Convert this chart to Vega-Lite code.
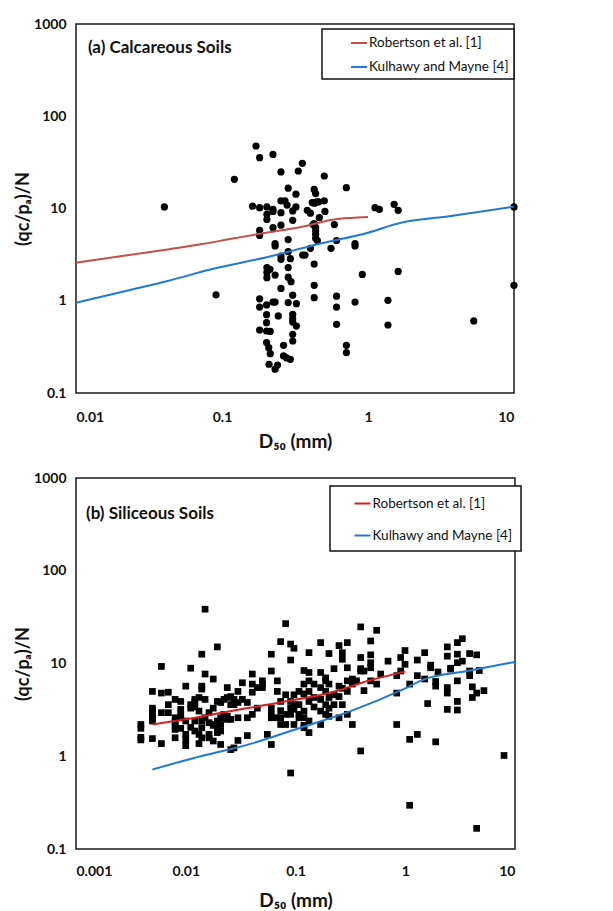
{
"$schema": "https://vega.github.io/schema/vega-lite/v6.json",
"background": "white",
"padding": {"left": 13, "top": 16, "right": 0, "bottom": 0},
"spacing": 85,
"bounds": "flush",
"config": {
 "font": "Lato",
 "view": {"stroke": "#1a1a1a", "strokeWidth": 1.5},
 "title": {"font": "Lato", "fontSize": 17, "fontWeight": "bold", "color": "#111", "anchor": "start", "frame": "group", "baseline": "alphabetic"},
 "axis": {"grid": false, "ticks": false, "domain": false, "labelFont": "Lato", "labelFontSize": 14, "labelFontWeight": "bold", "labelColor": "#111", "titleFont": "Lato", "titleFontSize": 18, "titleFontWeight": "bold", "titleColor": "#111"},
 "legend": {"title": null, "symbolType": "stroke", "symbolSize": 256, "symbolStrokeWidth": 2, "labelFont": "Lato", "labelFontSize": 13.5, "labelColor": "#111", "strokeColor": "#111", "strokeWidth": 1.5, "fillColor": "white", "labelOffset": 1}
},
"resolve": {"scale": {"x": "independent", "y": "independent", "color": "independent"}, "legend": {"color": "independent"}, "axis": {"x": "independent", "y": "independent"}},
"datasets": {
 "calc": [
  {"d50":0.0403,"qn":10.4},{"d50":0.091,"qn":1.16},{"d50":0.1216,"qn":20.7},{"d50":0.171,"qn":47.6},{"d50":0.181,"qn":35.6},{"d50":0.2235,"qn":38.6},{"d50":0.162,"qn":10.6},{"d50":0.181,"qn":10.2},{"d50":0.181,"qn":5.8},{"d50":0.181,"qn":5.1},{"d50":0.203,"qn":10.4},{"d50":0.203,"qn":8.65},{"d50":0.203,"qn":7.6},{"d50":0.2235,"qn":9.8},{"d50":0.2235,"qn":9.3},{"d50":0.2235,"qn":6.2},{"d50":0.231,"qn":4.16},{"d50":0.231,"qn":3.93},{"d50":0.2535,"qn":24.9},{"d50":0.2535,"qn":12.1},{"d50":0.27,"qn":12.1},{"d50":0.279,"qn":10.9},{"d50":0.2535,"qn":9.0},{"d50":0.2535,"qn":6.6},{"d50":0.284,"qn":16.6},{"d50":0.284,"qn":4.6},{"d50":0.284,"qn":3.4},{"d50":0.2535,"qn":3.05},{"d50":0.2535,"qn":2.81},{"d50":0.294,"qn":2.86},{"d50":0.305,"qn":9.4},{"d50":0.305,"qn":7.45},{"d50":0.321,"qn":10.4},{"d50":0.321,"qn":14.3},{"d50":0.333,"qn":25.5},{"d50":0.355,"qn":30.9},{"d50":0.357,"qn":3.13},{"d50":0.37,"qn":3.13},{"d50":0.384,"qn":9.55},{"d50":0.403,"qn":8.9},{"d50":0.403,"qn":3.7},{"d50":0.428,"qn":16.1},{"d50":0.438,"qn":14.5},{"d50":0.415,"qn":11.6},{"d50":0.43,"qn":11.4},{"d50":0.445,"qn":11.8},{"d50":0.46,"qn":11.8},{"d50":0.428,"qn":6.85},{"d50":0.438,"qn":6.2},{"d50":0.42,"qn":6.7},{"d50":0.438,"qn":5.7},{"d50":0.438,"qn":5.25},{"d50":0.438,"qn":4.75},{"d50":0.45,"qn":4.5},{"d50":0.464,"qn":7.96},{"d50":0.428,"qn":2.5},{"d50":0.428,"qn":1.47},{"d50":0.428,"qn":1.08},{"d50":0.502,"qn":22.5},{"d50":0.502,"qn":12.1},{"d50":0.507,"qn":9.3},{"d50":0.558,"qn":3.7},{"d50":0.588,"qn":6.7},{"d50":0.609,"qn":4.5},{"d50":0.609,"qn":1.12},{"d50":0.609,"qn":0.855},{"d50":0.609,"qn":0.555},{"d50":0.711,"qn":16.8},{"d50":0.711,"qn":0.329},{"d50":0.711,"qn":0.274},{"d50":0.815,"qn":4.16},{"d50":0.815,"qn":3.93},{"d50":0.815,"qn":0.968},{"d50":0.914,"qn":1.93},{"d50":1.117,"qn":10.2},{"d50":1.196,"qn":9.8},{"d50":1.51,"qn":11.1},{"d50":1.61,"qn":9.55},{"d50":1.61,"qn":2.08},{"d50":1.37,"qn":1.01},{"d50":1.37,"qn":0.546},{"d50":5.3,"qn":0.604},{"d50":10,"qn":10.4},{"d50":10,"qn":1.47},
  {"d50":0.181,"qn":1.05},{"d50":0.181,"qn":0.855},{"d50":0.202,"qn":0.9},{"d50":0.202,"qn":0.706},{"d50":0.202,"qn":0.578},{"d50":0.202,"qn":0.47},{"d50":0.181,"qn":0.482},{"d50":0.214,"qn":0.465},{"d50":0.202,"qn":0.352},{"d50":0.209,"qn":0.31},{"d50":0.214,"qn":0.267},{"d50":0.21,"qn":0.205},{"d50":0.231,"qn":0.181},{"d50":0.24,"qn":0.201},{"d50":0.2235,"qn":0.968},{"d50":0.231,"qn":0.968},{"d50":0.243,"qn":0.684},{"d50":0.203,"qn":2.29},{"d50":0.203,"qn":2.03},{"d50":0.203,"qn":1.78},{"d50":0.213,"qn":2.19},{"d50":0.231,"qn":1.9},{"d50":0.2535,"qn":1.36},{"d50":0.264,"qn":0.329},{"d50":0.264,"qn":0.252},{"d50":0.277,"qn":0.24},{"d50":0.294,"qn":0.232},{"d50":0.284,"qn":2.29},{"d50":0.284,"qn":1.8},{"d50":0.297,"qn":1.61},{"d50":0.305,"qn":1.15},{"d50":0.284,"qn":0.955},{"d50":0.323,"qn":0.929},{"d50":0.305,"qn":0.713},{"d50":0.305,"qn":0.64},{"d50":0.305,"qn":0.59},{"d50":0.323,"qn":0.532},{"d50":0.305,"qn":0.433},{"d50":0.305,"qn":0.366}
 ],
 "calcLines": [
  {"series":"Robertson et al. [1]","d50":0.01,"qn":2.59},{"series":"Robertson et al. [1]","d50":0.0425,"qn":3.6},{"series":"Robertson et al. [1]","d50":0.0718,"qn":4.1},{"series":"Robertson et al. [1]","d50":0.121,"qn":4.75},{"series":"Robertson et al. [1]","d50":0.206,"qn":5.5},{"series":"Robertson et al. [1]","d50":0.348,"qn":6.3},{"series":"Robertson et al. [1]","d50":0.587,"qn":7.6},{"series":"Robertson et al. [1]","d50":0.765,"qn":7.9},{"series":"Robertson et al. [1]","d50":1.0,"qn":8.1},
  {"series":"Kulhawy and Mayne [4]","d50":0.01,"qn":0.95},{"series":"Kulhawy and Mayne [4]","d50":0.025,"qn":1.34},{"series":"Kulhawy and Mayne [4]","d50":0.0425,"qn":1.64},{"series":"Kulhawy and Mayne [4]","d50":0.093,"qn":2.28},{"series":"Kulhawy and Mayne [4]","d50":0.206,"qn":2.98},{"series":"Kulhawy and Mayne [4]","d50":0.452,"qn":4.1},{"series":"Kulhawy and Mayne [4]","d50":1.0,"qn":5.47},{"series":"Kulhawy and Mayne [4]","d50":1.68,"qn":7.0},{"series":"Kulhawy and Mayne [4]","d50":3.7,"qn":8.3},{"series":"Kulhawy and Mayne [4]","d50":10,"qn":10.5}
 ],
 "sil": [
  {"d50":0.0039,"qn":2.2},{"d50":0.0039,"qn":2.0},{"d50":0.0039,"qn":1.6},{"d50":0.0039,"qn":1.5},
  {"d50":0.00497,"qn":5.0},{"d50":0.00497,"qn":3.3},{"d50":0.00497,"qn":3.07},{"d50":0.00497,"qn":2.83},{"d50":0.00497,"qn":2.6},{"d50":0.00497,"qn":2.4},{"d50":0.00497,"qn":1.55},
  {"d50":0.006,"qn":9.3},{"d50":0.006,"qn":4.8},{"d50":0.006,"qn":2.95},{"d50":0.006,"qn":1.37},
  {"d50":0.00694,"qn":4.9},{"d50":0.00694,"qn":3.6},{"d50":0.00694,"qn":2.95},
  {"d50":0.008,"qn":4.1},{"d50":0.008,"qn":2.6},{"d50":0.008,"qn":2.35},{"d50":0.008,"qn":2.15},{"d50":0.008,"qn":1.95},{"d50":0.008,"qn":1.58},
  {"d50":0.009,"qn":3.9},{"d50":0.009,"qn":3.2},{"d50":0.009,"qn":2.83},{"d50":0.009,"qn":2.6},{"d50":0.009,"qn":2.0},
  {"d50":0.01,"qn":5.7},{"d50":0.01,"qn":2.4},{"d50":0.01,"qn":1.72},{"d50":0.01,"qn":1.5},{"d50":0.01,"qn":1.3},
  {"d50":0.0111,"qn":8.9},{"d50":0.0111,"qn":3.6},{"d50":0.0111,"qn":3.3},{"d50":0.0111,"qn":2.05},
  {"d50":0.0121,"qn":4.1},{"d50":0.0121,"qn":3.8},{"d50":0.0121,"qn":3.4},{"d50":0.0121,"qn":2.4},{"d50":0.0121,"qn":1.87},
  {"d50":0.0132,"qn":4.3},{"d50":0.0132,"qn":3.07},{"d50":0.0132,"qn":1.72},{"d50":0.0132,"qn":1.37},
  {"d50":0.014,"qn":12.6},{"d50":0.014,"qn":5.7},{"d50":0.014,"qn":5.3},{"d50":0.014,"qn":2.4},{"d50":0.014,"qn":2.03},{"d50":0.014,"qn":1.58},
  {"d50":0.015,"qn":38.5},{"d50":0.015,"qn":7.7},{"d50":0.015,"qn":4.1},{"d50":0.015,"qn":2.6},
  {"d50":0.0163,"qn":2.95},{"d50":0.0163,"qn":2.3},{"d50":0.0163,"qn":1.72},{"d50":0.0163,"qn":1.58},
  {"d50":0.0178,"qn":6.8},{"d50":0.0178,"qn":3.3},{"d50":0.0178,"qn":2.2},{"d50":0.0178,"qn":2.15},{"d50":0.0178,"qn":1.46},
  {"d50":0.0194,"qn":15.1},{"d50":0.0194,"qn":3.9},{"d50":0.0194,"qn":2.4},{"d50":0.0194,"qn":2.03},{"d50":0.0194,"qn":1.95},{"d50":0.0194,"qn":1.8},
  {"d50":0.0208,"qn":3.8},{"d50":0.0208,"qn":2.6},{"d50":0.0208,"qn":2.2},{"d50":0.0208,"qn":1.87},{"d50":0.0208,"qn":1.34},
  {"d50":0.0223,"qn":4.1},{"d50":0.0223,"qn":2.83},
  {"d50":0.0239,"qn":5.5},{"d50":0.0239,"qn":4.3},{"d50":0.0239,"qn":2.7},{"d50":0.0239,"qn":2.5},
  {"d50":0.0257,"qn":4.4},{"d50":0.0257,"qn":3.6},{"d50":0.0257,"qn":2.5},{"d50":0.0257,"qn":1.18},
  {"d50":0.0275,"qn":4.1},{"d50":0.0275,"qn":3.6},{"d50":0.0275,"qn":1.23},
  {"d50":0.0299,"qn":5.0},{"d50":0.0299,"qn":3.8},{"d50":0.0299,"qn":2.6},{"d50":0.0299,"qn":1.48},
  {"d50":0.0328,"qn":6.2},{"d50":0.0328,"qn":4.1},
  {"d50":0.0364,"qn":3.8},{"d50":0.0364,"qn":2.6},{"d50":0.0364,"qn":1.67},
  {"d50":0.0404,"qn":7.7},{"d50":0.0404,"qn":6.0},{"d50":0.0404,"qn":4.9},{"d50":0.0404,"qn":2.83},
  {"d50":0.0449,"qn":5.5},{"d50":0.0449,"qn":3.3},
  {"d50":0.0499,"qn":6.5},{"d50":0.0499,"qn":6.0},{"d50":0.0499,"qn":5.5},
  {"d50":0.0554,"qn":1.72},
  {"d50":0.0602,"qn":12.6},{"d50":0.0602,"qn":8.3},{"d50":0.0602,"qn":3.3},{"d50":0.0602,"qn":2.83},{"d50":0.0602,"qn":2.6},{"d50":0.0602,"qn":1.34},
  {"d50":0.0683,"qn":6.5},{"d50":0.0683,"qn":5.0},{"d50":0.0683,"qn":2.6},
  {"d50":0.0732,"qn":17.2},{"d50":0.0732,"qn":3.9},{"d50":0.0732,"qn":3.1},{"d50":0.0732,"qn":2.6},{"d50":0.0732,"qn":2.2},
  {"d50":0.0813,"qn":26.9},{"d50":0.0813,"qn":4.6},{"d50":0.0813,"qn":2.83},{"d50":0.0813,"qn":2.2},
  {"d50":0.0903,"qn":16.2},{"d50":0.0903,"qn":10.9},{"d50":0.0903,"qn":3.9},{"d50":0.0903,"qn":3.3},{"d50":0.0903,"qn":2.83},{"d50":0.0903,"qn":0.66},
  {"d50":0.0968,"qn":14.6},{"d50":0.0968,"qn":4.6},{"d50":0.0968,"qn":3.6},{"d50":0.0968,"qn":3.2},{"d50":0.0968,"qn":2.2},
  {"d50":0.1076,"qn":5.0},{"d50":0.1076,"qn":3.6},{"d50":0.1076,"qn":2.83},{"d50":0.1076,"qn":2.6},
  {"d50":0.1194,"qn":8.4},{"d50":0.1194,"qn":6.0},{"d50":0.1194,"qn":4.7},{"d50":0.1194,"qn":3.07},{"d50":0.1194,"qn":2.6},{"d50":0.1194,"qn":2.15},{"d50":0.1194,"qn":2.03},
  {"d50":0.1327,"qn":13.1},{"d50":0.1327,"qn":8.0},{"d50":0.1327,"qn":6.5},{"d50":0.1327,"qn":5.0},{"d50":0.1327,"qn":3.9},{"d50":0.1327,"qn":2.4},{"d50":0.1327,"qn":1.8},
  {"d50":0.1475,"qn":6.0},{"d50":0.1475,"qn":4.3},{"d50":0.1475,"qn":3.4},
  {"d50":0.1695,"qn":16.8},{"d50":0.1695,"qn":8.0},{"d50":0.1695,"qn":5.5},{"d50":0.1695,"qn":4.1},{"d50":0.1695,"qn":3.07},{"d50":0.1695,"qn":2.2},
  {"d50":0.1883,"qn":7.0},{"d50":0.1883,"qn":6.5},{"d50":0.1883,"qn":5.0},{"d50":0.1883,"qn":3.6},{"d50":0.1883,"qn":2.83},
  {"d50":0.2018,"qn":12.8},{"d50":0.2018,"qn":6.0},{"d50":0.2018,"qn":4.3},{"d50":0.2018,"qn":3.3},{"d50":0.2018,"qn":2.7},
  {"d50":0.2243,"qn":8.8},{"d50":0.2243,"qn":4.6},{"d50":0.2243,"qn":3.6},
  {"d50":0.2491,"qn":15.6},{"d50":0.2491,"qn":5.7},{"d50":0.2491,"qn":4.4},{"d50":0.2491,"qn":2.6},
  {"d50":0.267,"qn":13.1},{"d50":0.267,"qn":11.1},{"d50":0.267,"qn":5.4},{"d50":0.267,"qn":3.6},
  {"d50":0.2966,"qn":16.8},{"d50":0.2966,"qn":9.0},{"d50":0.2966,"qn":6.5},{"d50":0.2966,"qn":5.0},{"d50":0.2966,"qn":2.83},
  {"d50":0.3296,"qn":6.8},{"d50":0.3296,"qn":6.0},{"d50":0.3296,"qn":2.2},
  {"d50":0.36,"qn":6.5},
  {"d50":0.3926,"qn":24.8},{"d50":0.3926,"qn":11.6},{"d50":0.3926,"qn":8.8},{"d50":0.3926,"qn":8.3},{"d50":0.3926,"qn":1.14},
  {"d50":0.4207,"qn":8.3},{"d50":0.4207,"qn":5.1},
  {"d50":0.4842,"qn":17.5},{"d50":0.4842,"qn":12.4},{"d50":0.4842,"qn":10.2},{"d50":0.4842,"qn":9.0},{"d50":0.4842,"qn":6.5},
  {"d50":0.5494,"qn":22.8},{"d50":0.5494,"qn":6.0},
  {"d50":0.5974,"qn":7.7},
  {"d50":0.697,"qn":10.6},
  {"d50":0.836,"qn":7.4},{"d50":0.836,"qn":4.8},{"d50":0.836,"qn":2.2},
  {"d50":0.9085,"qn":11.6},{"d50":0.9085,"qn":8.3},
  {"d50":0.995,"qn":13.8},{"d50":0.995,"qn":9.8},
  {"d50":1.097,"qn":6.0},{"d50":1.097,"qn":1.52},{"d50":1.097,"qn":0.296},
  {"d50":1.288,"qn":10.9},{"d50":1.288,"qn":7.4},{"d50":1.288,"qn":1.72},
  {"d50":1.503,"qn":13.1},{"d50":1.503,"qn":6.8},
  {"d50":1.6,"qn":3.7},
  {"d50":1.705,"qn":9.0},{"d50":1.705,"qn":9.6},
  {"d50":1.894,"qn":6.4},{"d50":1.894,"qn":5.7},{"d50":1.894,"qn":1.43},
  {"d50":1.987,"qn":8.1},
  {"d50":2.416,"qn":15.1},{"d50":2.416,"qn":12.0},{"d50":2.416,"qn":5.5},{"d50":2.416,"qn":4.8},{"d50":2.416,"qn":3.2},
  {"d50":2.593,"qn":8.9},{"d50":2.593,"qn":8.7},
  {"d50":2.985,"qn":16.8},{"d50":2.985,"qn":12.6},{"d50":2.985,"qn":10.2},{"d50":2.985,"qn":6.5},{"d50":2.985,"qn":3.9},{"d50":2.985,"qn":3.15},
  {"d50":3.311,"qn":18.5},{"d50":3.311,"qn":10.6},
  {"d50":3.861,"qn":12.8},{"d50":3.861,"qn":8.3},{"d50":3.861,"qn":7.4},
  {"d50":4.083,"qn":5.6},{"d50":4.083,"qn":4.3},
  {"d50":4.475,"qn":12.4},{"d50":4.475,"qn":4.8},{"d50":4.475,"qn":0.167},
  {"d50":4.73,"qn":8.4},
  {"d50":5.21,"qn":5.1},
  {"d50":7.94,"qn":1.02}
 ],
 "silLines": [
  {"series":"Robertson et al. [1]","d50":0.00497,"qn":2.2},{"series":"Robertson et al. [1]","d50":0.00964,"qn":2.49},{"series":"Robertson et al. [1]","d50":0.0275,"qn":3.12},{"series":"Robertson et al. [1]","d50":0.0786,"qn":3.87},{"series":"Robertson et al. [1]","d50":0.224,"qn":4.97},{"series":"Robertson et al. [1]","d50":0.452,"qn":6.47},{"series":"Robertson et al. [1]","d50":1.0,"qn":8.17},
  {"series":"Kulhawy and Mayne [4]","d50":0.00497,"qn":0.72},{"series":"Kulhawy and Mayne [4]","d50":0.0137,"qn":1.0},{"series":"Kulhawy and Mayne [4]","d50":0.039,"qn":1.36},{"series":"Kulhawy and Mayne [4]","d50":0.111,"qn":2.03},{"series":"Kulhawy and Mayne [4]","d50":0.318,"qn":3.07},{"series":"Kulhawy and Mayne [4]","d50":1.0,"qn":5.4},{"series":"Kulhawy and Mayne [4]","d50":1.48,"qn":6.75},{"series":"Kulhawy and Mayne [4]","d50":3.68,"qn":8.3},{"series":"Kulhawy and Mayne [4]","d50":10,"qn":10.4}
 ]
},
"vconcat": [
 {
  "width": 438, "height": 369,
  "title": {"text": "(a) Calcareous Soils", "offset": -40, "dx": 12},
  "encoding": {
   "x": {"field": "d50", "type": "quantitative", "scale": {"type": "log", "domain": [0.01, 10], "nice": false}, "axis": {"values": [0.01, 0.1, 1, 10], "format": "~g", "labelPadding": 17, "title": "D₅₀ (mm)", "titlePadding": 8, "titleFontSize": 19}},
   "y": {"field": "qn", "type": "quantitative", "scale": {"type": "log", "domain": [0.1, 1000], "nice": false}, "axis": {"values": [0.1, 1, 10, 100, 1000], "format": "~g", "labelPadding": 10, "title": "(qᴄ/pₐ)/N", "titlePadding": 1}}
  },
  "layer": [
   {"data": {"values": [{}]}, "mark": {"type": "rule", "color": "#d9d9d9", "strokeWidth": 1}, "encoding": {"x": {"datum": 1, "type": "quantitative"}, "y": null}},
   {"data": {"name": "calc"}, "mark": {"type": "circle", "size": 52, "color": "black", "opacity": 1}},
   {"data": {"name": "calcLines"}, "mark": {"type": "line", "strokeWidth": 2, "interpolate": "monotone"},
    "encoding": {"color": {"field": "series", "type": "nominal", "scale": {"domain": ["Robertson et al. [1]", "Kulhawy and Mayne [4]"], "range": ["#c0504d", "#1f7bd0"]},
      "legend": {"orient": "none", "legendX": 246, "legendY": 5, "padding": 5, "rowPadding": 8, "symbolOffset": 23, "labelExpr": "datum.label + '\u2003\u2009'"}}}}
  ]
 },
 {
  "width": 439, "height": 371,
  "title": {"text": "(b) Siliceous Soils", "offset": -52, "dx": 10},
  "encoding": {
   "x": {"field": "d50", "type": "quantitative", "scale": {"type": "log", "domain": [0.001, 10], "nice": false}, "axis": {"values": [0.001, 0.01, 0.1, 1, 10], "format": "~g", "labelPadding": 15, "title": "D₅₀ (mm)", "titlePadding": 13, "titleFontSize": 19}},
   "y": {"field": "qn", "type": "quantitative", "scale": {"type": "log", "domain": [0.1, 1000], "nice": false}, "axis": {"values": [0.1, 1, 10, 100, 1000], "format": "~g", "labelPadding": 10, "title": "(qᴄ/pₐ)/N", "titlePadding": 1}}
  },
  "layer": [
   {"data": {"values": [{}]}, "mark": {"type": "rule", "color": "#d9d9d9", "strokeWidth": 1}, "encoding": {"x": {"datum": 1, "type": "quantitative"}, "y": null}},
   {"data": {"name": "sil"}, "mark": {"type": "square", "size": 45, "color": "black", "opacity": 1}},
   {"data": {"name": "silLines"}, "mark": {"type": "line", "strokeWidth": 2, "interpolate": "monotone"},
    "encoding": {"color": {"field": "series", "type": "nominal", "scale": {"domain": ["Robertson et al. [1]", "Kulhawy and Mayne [4]"], "range": ["#d81e1e", "#1f7bd0"]},
      "legend": {"orient": "none", "legendX": 254, "legendY": 8, "padding": 8.5, "rowPadding": 16, "symbolOffset": 15, "labelExpr": "datum.label + '\u2002'"}}}}
  ]
 }
]
}
